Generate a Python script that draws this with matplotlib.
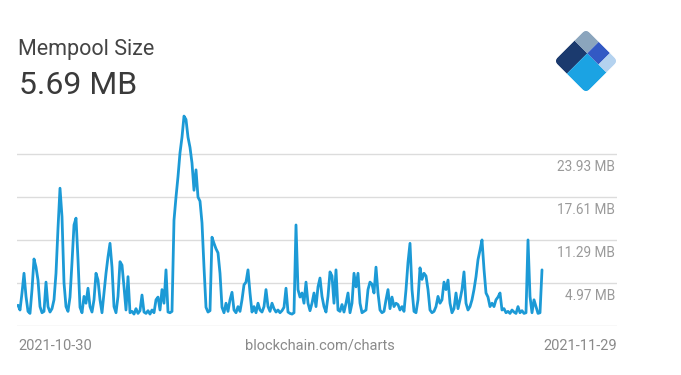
import numpy as np
import matplotlib
matplotlib.use("Agg")
import matplotlib.pyplot as plt
from matplotlib.patches import Rectangle, FancyBboxPatch
from matplotlib.transforms import Affine2D

plt.rcParams['font.family'] = ['Roboto', 'DejaVu Sans']

# ---- data (MB), sampled every 0.1 day starting 2021-10-30 ----
step_days = 0.1
mempool_mb = [
    1.7, 1.0, 3.5, 6.4, 3.0, 0.8, 0.5,
    4.0, 8.5, 7.3, 5.4, 1.5, 0.6, 0.8,
    5.1, 1.5, 0.7, 1.2, 2.5, 6.4,
    13.0, 18.9, 14.7, 5.0, 1.5, 0.8, 2.9,
    8.0, 13.5, 14.5, 8.4, 1.4, 0.6, 3.0,
    2.0, 4.2, 1.5, 0.7, 2.5, 6.4, 5.4,
    2.5, 0.6, 3.5, 6.4, 8.8, 10.8, 7.3,
    1.5, 0.6, 3.0, 8.1, 7.6, 4.4, 1.0,
    5.9, 0.6, 0.8, 0.4, 1.2, 0.5, 0.9,
    3.2, 0.7, 0.5, 0.9, 0.4, 1.0, 0.6,
    2.5, 2.9, 1.0, 4.0, 2.0, 6.9, 0.7,
    0.6, 0.8, 14.2, 17.6, 20.6, 24.1, 26.4,
    29.5, 29.0, 26.4, 24.9, 22.6, 18.6, 21.6,
    17.6, 17.0, 13.8, 7.3, 1.4, 0.7, 0.9,
    11.7, 10.8, 10.0, 9.4, 6.4, 1.4, 0.6,
    2.0, 0.8, 2.5, 3.6, 1.0, 0.6, 1.5,
    0.8, 2.5, 4.7, 5.1, 6.9, 3.5, 0.7,
    1.5, 0.6, 2.0, 1.0, 0.7, 1.5, 4.0,
    1.5, 0.8, 2.0, 1.2, 0.7, 1.0, 0.6,
    0.9, 1.4, 4.2, 0.7, 0.5, 0.4, 0.6,
    13.5, 4.0, 2.9, 3.5, 2.0, 5.1, 2.0,
    0.9, 2.0, 3.5, 1.5, 4.4, 5.7, 3.0,
    1.5, 0.7, 3.0, 6.6, 6.0, 2.0, 6.9,
    1.0, 0.8, 1.8, 0.7, 2.0, 3.5, 0.6,
    2.0, 6.4, 4.4, 6.4, 2.0, 0.6, 0.8,
    1.0, 4.0, 5.1, 4.8, 3.5, 7.3, 3.5,
    1.0, 0.6, 0.8, 2.5, 4.0, 1.2, 2.9,
    1.5, 2.0, 1.8, 1.0, 1.5, 0.8, 4.0,
    8.0, 10.8, 4.0, 0.8, 0.6, 2.5, 7.2,
    5.5, 6.4, 6.0, 4.0, 1.0, 0.6, 0.8,
    1.5, 3.0, 2.0, 2.5, 5.1, 4.0, 5.4,
    2.0, 0.6, 1.2, 3.5, 1.2, 2.5, 4.0,
    6.6, 2.0, 1.0, 1.5, 2.5, 4.0, 5.9,
    8.4, 9.8, 11.3, 7.0, 3.5, 2.9, 1.5,
    2.0, 1.5, 2.5, 2.9, 3.5, 1.0, 1.2,
    0.6, 0.8, 0.5, 1.0, 0.7, 0.5, 1.5,
    0.6, 0.9, 0.5, 0.6, 11.3, 3.0, 0.6,
    2.5, 1.5, 0.5, 0.6, 6.9,
]
grid_values = [-1.35, 4.97, 11.29, 17.61, 23.93]
tick_labels = ["4.97 MB", "11.29 MB", "17.61 MB", "23.93 MB"]
start_label = "2021-10-30"
end_label = "2021-11-29"
total_days = 30
title = "Mempool Size"
current_value = "5.69 MB"

days = np.arange(len(mempool_mb)) * step_days + 0.05

W, H = 681, 375
fig = plt.figure(figsize=(W / 100, H / 100), dpi=100)
fig.patch.set_facecolor("white")

ax = fig.add_axes([17 / W, (H - 326) / H, 600 / W, 221 / H])
ax.set_xlim(0, total_days)
ax.set_ylim(-1.35, -1.35 + 221 / (43 / 6.32))
for g in grid_values:
    ax.axhline(g, color="#dcdcdc", lw=1.0, zorder=1)
ax.plot(days, mempool_mb, color="#1c9ad6", lw=2.0, zorder=3,
        solid_joinstyle="round", solid_capstyle="round")
for sp in ax.spines.values():
    sp.set_visible(False)
ax.set_xticks([])
ax.set_yticks([])
ax.patch.set_alpha(0)

# right-side labels below each gridline
for g, lab in zip(grid_values[1:], tick_labels):
    ax.annotate(lab, xy=(1.0, g), xycoords=("axes fraction", "data"),
                xytext=(-2, -17), textcoords="offset pixels",
                ha="right", va="baseline", fontsize=9.8, color="#9a9a9a")

# titles
fig.text(18 / W, 1 - 55 / H, title, fontsize=15.5, color="#444444", ha="left", va="baseline")
fig.text(19 / W, 1 - 94 / H, current_value, fontsize=23, color="#3a3a3a", ha="left", va="baseline")

# bottom labels
fig.text(18 / W, 1 - 350 / H, start_label, fontsize=10.5, color="#8a8a8a", ha="left", va="baseline")
fig.text(320 / W, 1 - 350 / H, "blockchain.com/charts", fontsize=10.5, color="#8a8a8a", ha="center", va="baseline")
fig.text(617 / W, 1 - 350 / H, end_label, fontsize=10.5, color="#8a8a8a", ha="right", va="baseline")

# logo
lax = fig.add_axes([(586 - 33) / W, (H - 61 - 33) / H, 66 / W, 66 / H])
lax.set_xlim(-1, 1)
lax.set_ylim(-1, 1)
lax.axis("off")
h = 0.97
s = h * np.sqrt(2)
a = s / np.sqrt(2)
tr = Affine2D(np.array([[a, a, -h], [a, -a, 0.0], [0, 0, 1]])) + lax.transData
clip = FancyBboxPatch((0, 0), 1, 1, boxstyle="round,pad=0,rounding_size=0.12",
                      transform=tr, facecolor="none", edgecolor="none")
lax.add_patch(clip)
cells = [
    (0.0, 0.0, 0.64, 0.4, "#1b3a6e"),
    (0.64, 0.0, 0.36, 0.4, "#8ba5bd"),
    (0.0, 0.4, 0.64, 0.6, "#1ba3e3"),
    (0.64, 0.4, 0.36, 0.35, "#3359c4"),
    (0.64, 0.75, 0.36, 0.25, "#b4d2ef"),
]
for p0, q0, wp, wq, c in cells:
    r = Rectangle((p0, q0), wp, wq, transform=tr, facecolor=c, edgecolor="none")
    r.set_clip_path(clip)
    lax.add_patch(r)

fig.savefig("out.png", dpi=100, facecolor="white")
